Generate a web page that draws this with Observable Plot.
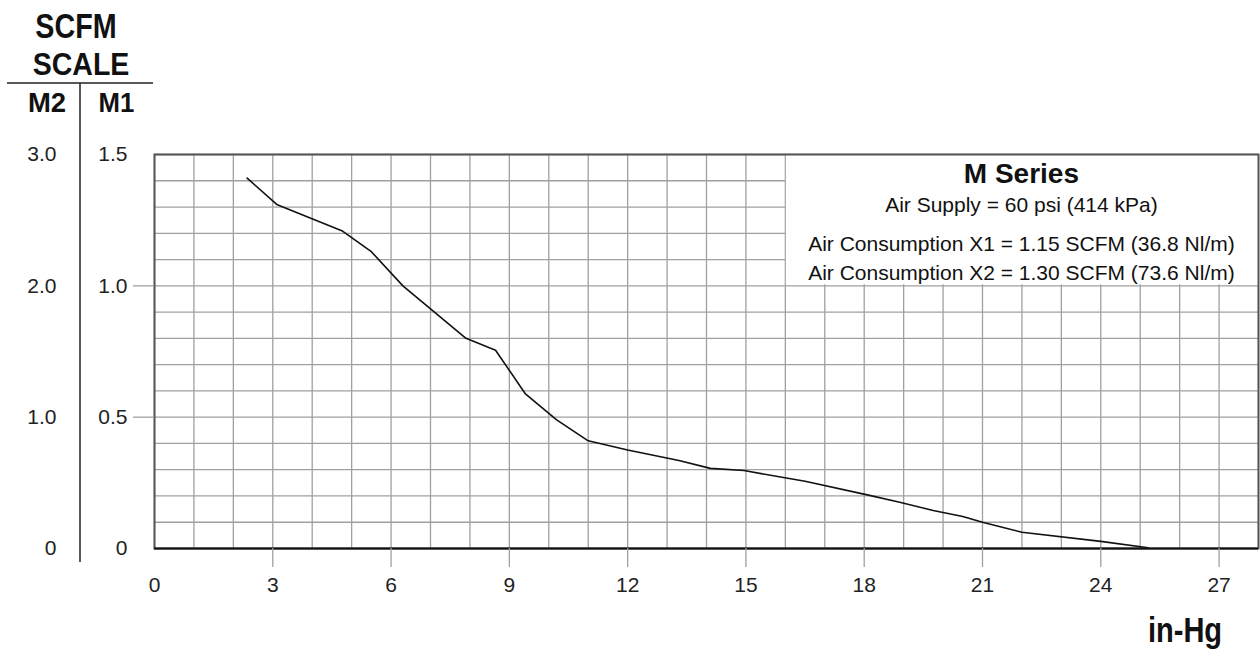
<!DOCTYPE html>
<html>
<head>
<meta charset="utf-8">
<script src="https://cdn.jsdelivr.net/npm/d3@7"></script>
<script src="https://cdn.jsdelivr.net/npm/@observablehq/plot@0.6"></script>
<style>
  html, body { margin: 0; padding: 0; background: #fff; }
  #chart { width: 1260px; height: 650px; }
</style>
</head>
<body>
<div id="chart"></div>
<script>
// ---- data ----
const vacuum = [2.35, 3.1, 4.75, 5.5, 6.3, 7.9, 8.65, 9.4, 10.2, 11.0, 12.0, 13.3, 14.1, 14.95, 15.95, 16.5, 18.05, 18.9, 19.75, 20.5, 21.0, 21.45, 22.0, 24.0, 25.2];
const scfmM1 = [1.41, 1.31, 1.21, 1.13, 1.0, 0.80, 0.755, 0.59, 0.49, 0.41, 0.375, 0.335, 0.305, 0.297, 0.27, 0.256, 0.205, 0.176, 0.145, 0.122, 0.10, 0.083, 0.062, 0.027, 0.003];

const xTicks = [0, 3, 6, 9, 12, 15, 18, 21, 24, 27];
const yTicks = [0, 0.5, 1.0, 1.5];
const m1TickLabels = ["0", "0.5", "1.0", "1.5"];
const m2TickLabels = ["0", "1.0", "2.0", "3.0"];
const xGrid = d3.range(0, 29, 1);
const yGrid = d3.range(0, 16, 1).map(d => d / 10);

const legendBox = [{x1: 16, x2: 28, y1: 1.0, y2: 1.5}];
const legendTitle = "M Series";
const legendLines = [
  "Air Supply = 60 psi (414 kPa)",
  "Air Consumption X1 = 1.15 SCFM (36.8 Nl/m)",
  "Air Consumption X2 = 1.30 SCFM (73.6 Nl/m)"
];
const xLabel = "in-Hg";
const yTitle1 = "SCFM";
const yTitle2 = "SCALE";
const colM2 = "M2";
const colM1 = "M1";

const data = vacuum.map((x, i) => ({x, y: scfmM1[i]}));

const REG = "'Liberation Sans', Arial, Helvetica, sans-serif";
const gridColor = "#a0a0a0";

const m1Label = d => m1TickLabels[yTicks.indexOf(d)];
const m2Label = d => m2TickLabels[yTicks.indexOf(d)];

const plot = Plot.plot({
  width: 1260,
  height: 650,
  marginLeft: 154,
  marginRight: 2,
  marginTop: 154,
  marginBottom: 102,
  style: {fontFamily: REG, fontSize: "21px", color: "#222", background: "#fff", overflow: "visible"},
  x: {domain: [0, 28]},
  y: {domain: [0, 1.5]},
  marks: [
    Plot.ruleX(xGrid, {stroke: gridColor, strokeWidth: 1.3}),
    Plot.ruleY(yGrid, {stroke: gridColor, strokeWidth: 1.3}),
    Plot.rect(legendBox, {x1: "x1", x2: "x2", y1: "y1", y2: "y2", fill: "#fff", insetLeft: 1, insetBottom: 1}),
    Plot.frame({stroke: "#555", strokeWidth: 2}),
    Plot.ruleY([0], {stroke: "#111", strokeWidth: 2}),
    Plot.line(data, {x: "x", y: "y", stroke: "#111", strokeWidth: 1.6}),
    // x axis: tick lines (none at 0) and labels
    Plot.axisX({ticks: xTicks.filter(d => d > 0), tickSize: 19, tickFormat: () => "", stroke: gridColor, strokeWidth: 1.3}),
    Plot.axisX({ticks: xTicks, tickSize: 0, tickPadding: 29, fontSize: 21, fill: "#222"}),
    // M1 axis
    Plot.axisY({ticks: yTicks.filter(d => d > 0 && d < 1.5), tickSize: 21, tickFormat: () => "", stroke: gridColor, strokeWidth: 1.3}),
    Plot.axisY({ticks: yTicks, tickSize: 0, tickPadding: 27, tickFormat: m1Label, fontSize: 21, fill: "#222"}),
    // M2 axis
    Plot.axisY({ticks: yTicks, tickSize: 0, tickPadding: 98, tickFormat: m2Label, fontSize: 21, fill: "#222"})
  ]
});

document.getElementById("chart").appendChild(plot);

const svg = d3.select(plot);
const xs = plot.scale("x");
const cx = xs.apply((legendBox[0].x1 + legendBox[0].x2) / 2);

// legend block
svg.append("text").attr("x", cx).attr("y", 183).attr("text-anchor", "middle")
  .style("font-family", REG).style("font-weight", "bold").style("font-size", "28px").attr("fill", "#111")
  .text(legendTitle);
[212, 251, 280].forEach((yy, i) => {
  svg.append("text").attr("x", cx).attr("y", yy).attr("text-anchor", "middle")
    .style("font-family", REG).style("font-size", "21px").attr("fill", "#111")
    .text(legendLines[i]);
});

// condensed bold titles (horizontal squeeze to mimic a condensed face)
function title(txt, x, y, size, sx) {
  svg.append("text")
    .attr("transform", `translate(${x},${y}) scale(${sx},1)`)
    .attr("text-anchor", "middle")
    .style("font-family", REG).style("font-weight", "bold").style("font-size", size + "px")
    .attr("fill", "#111")
    .text(txt);
}
title(xLabel, 1185, 642, 35, 0.83);
title(yTitle1, 76, 38, 35, 0.82);
title(yTitle2, 81, 75, 31, 0.92);
title(colM2, 47, 112, 28, 0.98);
title(colM1, 116.5, 112, 28, 0.92);

svg.append("line").attr("x1", 7).attr("x2", 153).attr("y1", 83).attr("y2", 83).attr("stroke", "#222").attr("stroke-width", 1.5);
svg.append("line").attr("x1", 80).attr("x2", 80).attr("y1", 83).attr("y2", 562).attr("stroke", "#222").attr("stroke-width", 1.5);
</script>
</body>
</html>
